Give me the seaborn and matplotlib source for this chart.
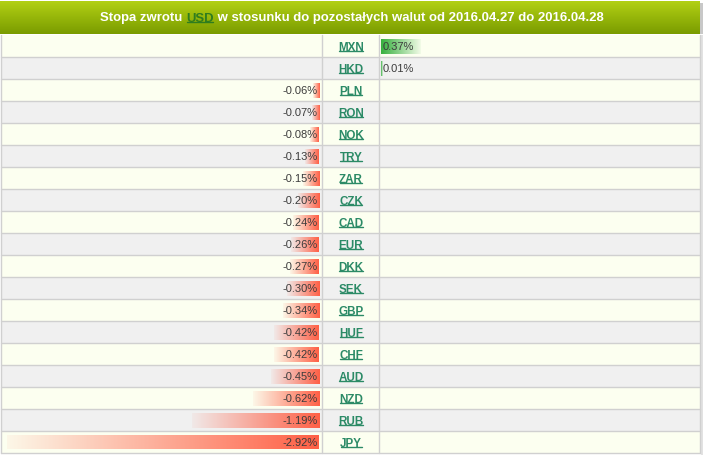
import numpy as np
import pandas as pd
import matplotlib
matplotlib.use("Agg")
import matplotlib.pyplot as plt
import seaborn as sns
from matplotlib.patches import Rectangle
from matplotlib.lines import Line2D
from matplotlib.colors import to_rgb
from matplotlib.transforms import IdentityTransform

# ---- data ----
codes = ["MXN", "HKD", "PLN", "RON", "NOK", "TRY", "ZAR", "CZK", "CAD", "EUR",
         "DKK", "SEK", "GBP", "HUF", "CHF", "AUD", "NZD", "RUB", "JPY"]
values = [0.37, 0.01, -0.06, -0.07, -0.08, -0.13, -0.15, -0.20, -0.24, -0.26,
          -0.27, -0.30, -0.34, -0.42, -0.42, -0.45, -0.62, -1.19, -2.92]
title_parts = ["Stopa zwrotu ", "USD", " w stosunku do pozostałych walut od 2016.04.27 do 2016.04.28"]

df = pd.DataFrame({"code": codes, "value": values})

sns.set_theme(style="white")
plt.rcParams["font.family"] = ["Liberation Sans", "DejaVu Sans"]

W, H = 704, 460
fig = plt.figure(figsize=(W / 100, H / 100), dpi=100)

# ---- background table (pixel coordinates) ----
ax_bg = fig.add_axes([0, 0, 1, 1])
ax_bg.set_xlim(0, W)
ax_bg.set_ylim(H, 0)
ax_bg.axis("off")

TOP, ROW, N = 36, 22, len(codes)
LEFT, RIGHT = 1, 700
C1, C2 = 322, 379

# header gradient
top_c = np.array(to_rgb("#b2d014"))
bot_c = np.array(to_rgb("#7a9c00"))
t = np.linspace(0, 1, 64)[:, None, None]
grad = top_c * (1 - t) + bot_c * t
grad = np.repeat(grad, 2, axis=1)
ax_bg.imshow(grad, extent=[0, RIGHT, 35, 2], aspect="auto", interpolation="bilinear", zorder=1)
ax_bg.add_patch(Rectangle((RIGHT, 4), 2.5, 31, fc="#c8c8c8", ec="none", zorder=1))

for i in range(N):
    fc = "#fcfff0" if i % 2 == 0 else "#f0f0f0"
    ax_bg.add_patch(Rectangle((LEFT, TOP + ROW * i), RIGHT - LEFT, ROW, fc=fc, ec="none", zorder=1))
for i in range(1, N + 1):
    ax_bg.plot([LEFT, RIGHT], [TOP + ROW * i, TOP + ROW * i], color="#d0d0d0", lw=1, zorder=2)
for x in (LEFT, C1, C2, RIGHT):
    ax_bg.plot([x, x], [TOP, TOP + ROW * N], color="#d0d0d0", lw=1, zorder=2)
ax_bg.add_patch(Rectangle((RIGHT + 0.5, TOP), 2, ROW * N + 2, fc="#e2e2e2", ec="none", zorder=1))

# ---- bars ----
PX_PER_UNIT = 312 / 2.92
bar_w = 15 / 22
neg_right, pos_left = 319, 381
fb = (H - (TOP + ROW * N)) / H
fh = ROW * N / H

ax_neg = fig.add_axes([0, fb, neg_right / W, fh])
ax_pos = fig.add_axes([pos_left / W, fb, (RIGHT - pos_left) / W, fh])

neg_df = df[df["value"] < 0]
pos_df = df[df["value"] >= 0]
sns.barplot(data=neg_df, x="value", y="code", order=codes, orient="h",
            width=bar_w, color="#ff5f45", ax=ax_neg)
sns.barplot(data=pos_df, x="value", y="code", order=codes, orient="h",
            width=bar_w, color="#36b03e", ax=ax_pos)


def gradient_fill(ax, rgb, reverse):
    rgb = np.array(to_rgb(rgb))
    a = np.linspace(0.05, 1.0, 256)
    if reverse:
        a = a[::-1]
    img = np.zeros((1, 256, 4))
    img[0, :, :3] = rgb
    img[0, :, 3] = a
    for p in list(ax.patches):
        x0, y0 = p.get_x(), p.get_y()
        w, h = p.get_width(), p.get_height()
        if w == 0:
            continue
        l, r = min(x0, x0 + w), max(x0, x0 + w)
        im = ax.imshow(img, extent=[l, r, y0 + h, y0], aspect="auto",
                       interpolation="bilinear", zorder=2)
        im.set_clip_path(p)
        p.set_facecolor("none")
        p.set_edgecolor("none")


gradient_fill(ax_neg, "#ff5f45", reverse=False)
gradient_fill(ax_pos, "#36b03e", reverse=True)

for ax, xl in ((ax_neg, (-neg_right / PX_PER_UNIT, 0)), (ax_pos, (0, (RIGHT - pos_left) / PX_PER_UNIT))):
    ax.set_xlim(*xl)
    ax.set_ylim(N - 0.5, -0.5)
    ax.axis("off")
    ax.patch.set_alpha(0)

for i, v in enumerate(values):
    if v < 0:
        ax_neg.annotate(f"{v:.2f}%", xy=(0, i), xytext=(-0.8, -0.3), textcoords="offset points",
                        ha="right", va="center", fontsize=8, color="#3c3c3c", zorder=5)
    else:
        ax_pos.annotate(f"{v:.2f}%", xy=(0, i), xytext=(1.2, -0.3), textcoords="offset points",
                        ha="left", va="center", fontsize=8, color="#3c3c3c", zorder=5)

# ---- currency codes ----
code_texts = []
for i, c in enumerate(codes):
    tx = ax_bg.text((C1 + C2) / 2 + 0.5, TOP + ROW * i + ROW / 2 + 0.6, c, ha="center", va="center",
                    fontsize=8.4, fontweight="bold", color="#2b8a66", zorder=5)
    code_texts.append(tx)

# ---- title ----
title_colors = ["white", "#2f7d1e", "white"]
title_texts = []
for part, col in zip(title_parts, title_colors):
    tx = ax_bg.text(0, 18.5, part, ha="left", va="center", fontsize=9.45,
                    fontweight="bold", color=col, zorder=5)
    title_texts.append(tx)

fig.canvas.draw()
r = fig.canvas.get_renderer()
widths = [tx.get_window_extent(r).width for tx in title_texts]
total = sum(widths)
x = (RIGHT + 4 - total) / 2
for tx, w in zip(title_texts, widths):
    tx.set_x(x)
    x += w

fig.canvas.draw()


def underline(tx, color):
    bb = tx.get_window_extent(r)
    y = bb.y0 + 1.2
    fig.add_artist(Line2D([bb.x0 + 0.5, bb.x1 - 0.5], [y, y], transform=IdentityTransform(),
                          color=color, lw=1.0, zorder=6))


for tx in code_texts:
    underline(tx, "#2b8a66")
underline(title_texts[1], "#2f7d1e")

fig.savefig("out.png", dpi=100)
